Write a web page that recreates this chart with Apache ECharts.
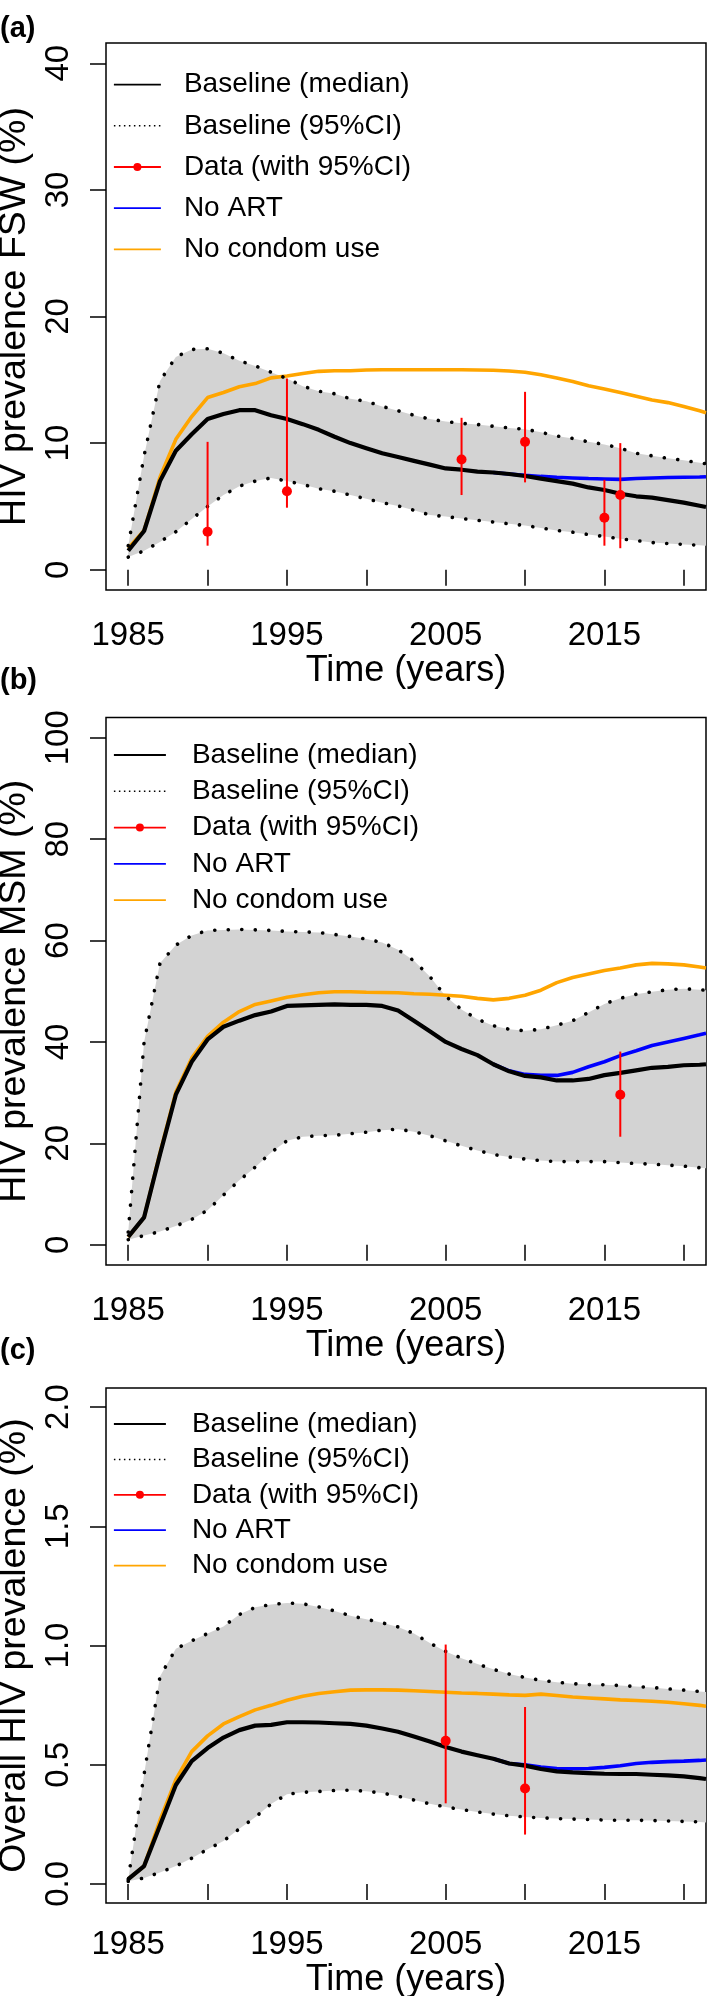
<!DOCTYPE html>
<html>
<head>
<meta charset="utf-8">
<script src="https://cdn.jsdelivr.net/npm/echarts@6/dist/echarts.min.js"></script>
<style>html,body{margin:0;padding:0;background:#fff}#c{width:709px;height:1996px}</style>
</head>
<body>
<div id="c"></div>
<script>
// ---------- shared ----------
const years = [1985,1986,1987,1988,1989,1990,1991,1992,1993,1994,1995,1996,1997,1998,1999,2000,2001,2002,2003,2004,2005,2006,2007,2008,2009,2010,2011,2012,2013,2014,2015,2016,2017,2018,2019,2020,2021,2021.4];
const xTickValues = [1985,1990,1995,2000,2005,2010,2015,2020];
const xLabelValues = [1985,1995,2005,2015];

// ---------- panel (a): FSW ----------
const fswMedian   = [1.5,3.06,7.0,9.4,10.7,11.9,12.3,12.6,12.6,12.2,11.9,11.5,11.05,10.5,10.0,9.6,9.2,8.9,8.6,8.3,8.0,7.9,7.75,7.68,7.56,7.4,7.2,7.0,6.8,6.5,6.3,6.0,5.8,5.7,5.5,5.3,5.05,4.95];
const fswNoArt    = [null,null,null,null,null,null,null,null,null,null,null,null,null,null,null,null,null,null,null,null,null,null,null,7.68,7.56,7.45,7.37,7.3,7.25,7.2,7.17,7.14,7.2,7.25,7.28,7.3,7.32,7.35];
const fswNoCondom = [1.7,3.1,7.3,10.3,12.1,13.6,14.0,14.45,14.7,15.15,15.3,15.5,15.67,15.72,15.72,15.78,15.8,15.8,15.8,15.8,15.8,15.8,15.78,15.75,15.7,15.6,15.4,15.15,14.87,14.53,14.28,14.0,13.7,13.4,13.2,12.9,12.55,12.4];
const fswUpper    = [1.9,9.0,14.9,16.8,17.4,17.45,17.1,16.5,16.1,15.6,15.1,14.5,14.1,13.9,13.5,13.3,12.9,12.55,12.2,11.9,11.7,11.56,11.47,11.33,11.2,11.1,10.85,10.57,10.37,10.1,9.9,9.6,9.2,9.0,8.8,8.64,8.44,8.38];
const fswLower    = [1.0,1.5,2.2,3.0,4.0,5.0,5.9,6.6,7.0,7.25,7.0,6.74,6.4,6.2,5.9,5.6,5.3,5.04,4.7,4.33,4.2,4.05,3.9,3.77,3.63,3.5,3.3,3.1,2.97,2.78,2.63,2.44,2.3,2.15,2.07,2.0,1.93,1.9];
const fswDataYears = [1990,1995,2006,2010,2015,2016];
const fswData      = [3.0,6.2,8.7,10.1,4.1,5.9];
const fswDataLo    = [1.9,4.9,5.9,6.9,1.9,1.7];
const fswDataHi    = [10.1,15.1,12.0,14.05,7.1,10.0];
const fswYTicks = [0,10,20,30,40];

// ---------- panel (b): MSM ----------
const msmMedian   = [1.55,5.4,17.8,29.6,36.1,40.5,43.0,44.2,45.3,46.0,47.1,47.2,47.3,47.4,47.3,47.3,47.1,46.2,44.2,42.1,40.0,38.6,37.4,35.6,34.2,33.3,33.0,32.4,32.4,32.7,33.45,33.9,34.4,34.9,35.1,35.4,35.5,35.6];
const msmNoArt    = [null,null,null,null,null,null,null,null,null,null,null,null,null,null,null,null,null,null,null,null,null,null,null,35.6,34.3,33.6,33.4,33.4,34.0,35.1,36.1,37.3,38.25,39.3,40.0,40.7,41.4,41.7];
const msmNoCondom = [1.5,5.4,18.1,30.1,36.8,41.1,43.9,46.0,47.4,48.1,48.8,49.3,49.7,49.9,49.9,49.8,49.75,49.7,49.5,49.4,49.2,49.0,48.6,48.3,48.6,49.2,50.2,51.7,52.7,53.4,54.1,54.6,55.2,55.5,55.4,55.2,54.8,54.6];
const msmUpper    = [2.5,40,55.5,59.1,61,62,62.1,62.2,62.1,62,61.8,61.7,61.6,61.2,60.8,60.3,59.6,58.2,56,52.9,49,46.4,44.5,43.2,42.5,42.2,42.5,43.3,44.2,45.8,47.5,48.6,49.4,49.9,50.3,50.5,50.3,50.2];
const msmLower    = [1.0,1.8,2.6,3.7,5.0,6.8,9.8,12.7,15.3,18.2,20.5,21.3,21.5,21.6,21.9,22.2,22.6,22.8,22.3,21.5,20.5,19.5,18.6,17.8,17.3,16.9,16.6,16.4,16.4,16.4,16.4,16.2,16.0,15.9,15.7,15.5,15.2,15.1];
const msmDataYears = [2016];
const msmData      = [29.6];
const msmDataLo    = [21.3];
const msmDataHi    = [38.1];
const msmYTicks = [0,20,40,60,80,100];

// ---------- panel (c): overall ----------
const allMedian   = [0.02,0.075,0.245,0.415,0.515,0.57,0.614,0.645,0.664,0.667,0.678,0.678,0.677,0.674,0.671,0.664,0.652,0.638,0.618,0.597,0.574,0.555,0.54,0.525,0.505,0.496,0.482,0.472,0.468,0.465,0.462,0.461,0.461,0.458,0.455,0.451,0.444,0.44];
const allNoArt    = [null,null,null,null,null,null,null,null,null,null,null,null,null,null,null,null,null,null,null,null,null,null,null,0.525,0.505,0.5,0.49,0.484,0.483,0.484,0.489,0.496,0.505,0.51,0.513,0.515,0.518,0.52];
const allNoCondom = [0.02,0.075,0.267,0.437,0.555,0.621,0.671,0.702,0.73,0.749,0.77,0.787,0.799,0.806,0.813,0.814,0.814,0.813,0.81,0.807,0.804,0.801,0.799,0.796,0.793,0.791,0.796,0.79,0.784,0.78,0.776,0.772,0.769,0.766,0.762,0.756,0.749,0.745];
const allUpper    = [0.02,0.46,0.87,0.986,1.02,1.05,1.08,1.13,1.16,1.172,1.178,1.175,1.162,1.145,1.125,1.11,1.095,1.078,1.05,1.01,0.975,0.947,0.922,0.9,0.88,0.866,0.854,0.846,0.84,0.836,0.835,0.832,0.828,0.824,0.818,0.813,0.807,0.805];
const allLower    = [0.011,0.025,0.048,0.075,0.108,0.145,0.18,0.231,0.28,0.335,0.376,0.384,0.388,0.392,0.393,0.389,0.381,0.368,0.352,0.336,0.323,0.312,0.302,0.293,0.286,0.281,0.277,0.274,0.272,0.27,0.268,0.267,0.267,0.266,0.264,0.262,0.26,0.258];
const allDataYears = [2005,2010];
const allData      = [0.6,0.4];
const allDataLo    = [0.338,0.207];
const allDataHi    = [1.004,0.742];
const allYTicks = [0,0.5,1.0,1.5,2.0];

// ---------- build ----------
const FONT = "'Liberation Sans', Arial, Helvetica, sans-serif";
const panels = [
  {label:'(a)', labelTop:14, gridTop:43, gridH:547, yMin:-1.6, yMax:41.6, yTicks:fswYTicks, yFmt:v=>String(v), yName:'HIV prevalence FSW (%)',
   median:fswMedian, noArt:fswNoArt, noCondom:fswNoCondom, upper:fswUpper, lower:fswLower,
   dYears:fswDataYears, d:fswData, dLo:fswDataLo, dHi:fswDataHi,
   legTop:70.6, legGap:13.2, legItemW:47, legPad:18, xMargin:29, xNameGap:61},
  {label:'(b)', labelTop:666, gridTop:717.5, gridH:547.5, yMin:-4, yMax:104, yTicks:msmYTicks, yFmt:v=>String(v), yName:'HIV prevalence MSM (%)',
   median:msmMedian, noArt:msmNoArt, noCondom:msmNoCondom, upper:msmUpper, lower:msmLower,
   dYears:msmDataYears, d:msmData, dLo:msmDataLo, dHi:msmDataHi,
   legTop:741, legGap:8.3, legItemW:52, legPad:21, xMargin:29, xNameGap:59},
  {label:'(c)', labelTop:1336, gridTop:1388, gridH:515, yMin:-0.08, yMax:2.08, yTicks:allYTicks, yFmt:v=>v.toFixed(1), yName:'Overall HIV prevalence (%)',
   median:allMedian, noArt:allNoArt, noCondom:allNoCondom, upper:allUpper, lower:allLower,
   dYears:allDataYears, d:allData, dLo:allDataLo, dHi:allDataHi,
   legTop:1410, legGap:7.4, legItemW:52, legPad:21, xMargin:25, xNameGap:54}
];

const zip = (xs, ys) => xs.map((x,i)=>[x, ys[i]]).filter(p => p[1] !== null && p[1] !== undefined);

const grids=[], xAxes=[], yAxes=[], series=[], titles=[], legends=[];
panels.forEach((p, i) => {
  grids.push({left:106, width:600, top:p.gridTop, height:p.gridH, containLabel:false, outerBoundsMode:'none',
    show:true, borderColor:'#000', borderWidth:1.5, backgroundColor:'transparent'});
  xAxes.push({
    type:'value', gridIndex:i, min:1983.6, max:2021.4,
    axisLine:{show:false}, splitLine:{show:false},
    axisTick:{show:true, inside:false, length:16, lineStyle:{color:'#000', width:1.5}, customValues:xTickValues},
    axisLabel:{show:true, customValues:xLabelValues, margin:p.xMargin, fontSize:33, color:'#000', fontFamily:FONT, formatter:v=>String(v)},
    name:'Time (years)', nameLocation:'middle', nameGap:p.xNameGap,
    nameTextStyle:{fontSize:36, color:'#000', fontFamily:FONT}
  });
  yAxes.push({
    type:'value', gridIndex:i, min:p.yMin, max:p.yMax,
    axisLine:{show:false}, splitLine:{show:false},
    axisTick:{show:true, inside:false, length:16, lineStyle:{color:'#000', width:1.5}, customValues:p.yTicks},
    axisLabel:{show:true, customValues:p.yTicks, rotate:90, margin:31, fontSize:33, color:'#000', fontFamily:FONT, formatter:p.yFmt},
    name:p.yName, nameLocation:'middle', nameRotate:90, nameGap:62,
    nameTextStyle:{fontSize:37.5, color:'#000', fontFamily:FONT}
  });
  titles.push({text:p.label, left:0, top:p.labelTop, padding:0,
    textStyle:{fontSize:29, fontWeight:'bold', color:'#000', fontFamily:FONT}});

  const common = {xAxisIndex:i, yAxisIndex:i, symbol:'none', showSymbol:false, silent:true, animation:false};
  // 95% CI band as one polygon through the axis scales
  const bandRows = years.map((y,k)=>[y, p.lower[k], p.upper[k]]);
  series.push({type:'custom', name:'_band'+i, xAxisIndex:i, yAxisIndex:i, silent:true, animation:false,
    data:bandRows, encode:{x:0, y:[1,2]}, z:1,
    renderItem:(params, api) => {
      if (params.dataIndex !== 0) return null;
      const pts = [];
      bandRows.forEach(r => pts.push(api.coord([r[0], r[2]])));
      for (let k = bandRows.length - 1; k >= 0; k--) pts.push(api.coord([bandRows[k][0], bandRows[k][1]]));
      return {type:'polygon', shape:{points:pts}, style:{fill:'#D3D3D3', stroke:null}};
    }});
  // scenario lines
  series.push(Object.assign({}, common, {type:'line', z:2, name:'No condom use', data:zip(years, p.noCondom), lineStyle:{color:'#FFA500', width:3.6}, itemStyle:{color:'#FFA500'}}));
  series.push(Object.assign({}, common, {type:'line', z:2, name:'No ART', data:zip(years, p.noArt), lineStyle:{color:'#0000FF', width:3.6}, itemStyle:{color:'#0000FF'}}));
  series.push(Object.assign({}, common, {type:'line', z:2, name:'Baseline (median)', data:zip(years, p.median), lineStyle:{color:'#000', width:4.2}, itemStyle:{color:'#000'}}));
  // dotted CI
  const dotted = {color:'#000', width:3.6, type:[0.1, 13.4], cap:'round'};
  series.push(Object.assign({}, common, {type:'line', z:2, name:'Baseline (95%CI)', data:zip(years, p.lower), lineStyle:dotted, itemStyle:{color:'#000'}}));
  series.push(Object.assign({}, common, {type:'line', z:2, name:'Baseline (95%CI)', data:zip(years, p.upper), lineStyle:dotted, itemStyle:{color:'#000'}}));
  // error bars
  series.push({type:'custom', name:'_err'+i, xAxisIndex:i, yAxisIndex:i, silent:true, animation:false, z:3,
    data:p.dYears.map((y,k)=>[y, p.dLo[k], p.dHi[k]]),
    encode:{x:0, y:[1,2]},
    renderItem:(params, api) => {
      const a = api.coord([api.value(0), api.value(1)]);
      const b = api.coord([api.value(0), api.value(2)]);
      return {type:'line', shape:{x1:a[0], y1:a[1], x2:b[0], y2:b[1]}, style:{stroke:'#FF0000', lineWidth:2}};
    }});
  // data points
  series.push({type:'line', name:'Data (with 95%CI)', xAxisIndex:i, yAxisIndex:i, silent:true, animation:false, z:4,
    data:zip(p.dYears, p.d), symbol:'circle', symbolSize:10, showSymbol:true,
    itemStyle:{color:'#FF0000'}, lineStyle:{width:0, opacity:0}});

  legends.push({
    orient:'vertical', left:113, top:p.legTop, padding:0, itemGap:p.legGap,
    itemWidth:p.legItemW, itemHeight:10, selectedMode:false,
    itemStyle:{opacity:0},
    textStyle:{fontSize:28, lineHeight:28, color:'#000', fontFamily:FONT, padding:[0,0,0,p.legPad]},
    data:[
      {name:'Baseline (median)', lineStyle:{width:1.8, color:'#000'}},
      {name:'Baseline (95%CI)', lineStyle:{width:1.5, color:'#000', type:[1.5,3.5], cap:'butt'}},
      {name:'Data (with 95%CI)', lineStyle:{width:1.8, opacity:1, color:'#FF0000'}, itemStyle:{opacity:1, color:'#FF0000'}},
      {name:'No ART', lineStyle:{width:1.8, color:'#0000FF'}},
      {name:'No condom use', lineStyle:{width:1.8, color:'#FFA500'}}
    ]
  });
});

const chart = echarts.init(document.getElementById('c'), null, {renderer:'canvas'});
chart.setOption({
  animation:false,
  backgroundColor:'#fff',
  textStyle:{fontFamily:FONT},
  title:titles, legend:legends, grid:grids, xAxis:xAxes, yAxis:yAxes, series:series
});
</script>
</body>
</html>
